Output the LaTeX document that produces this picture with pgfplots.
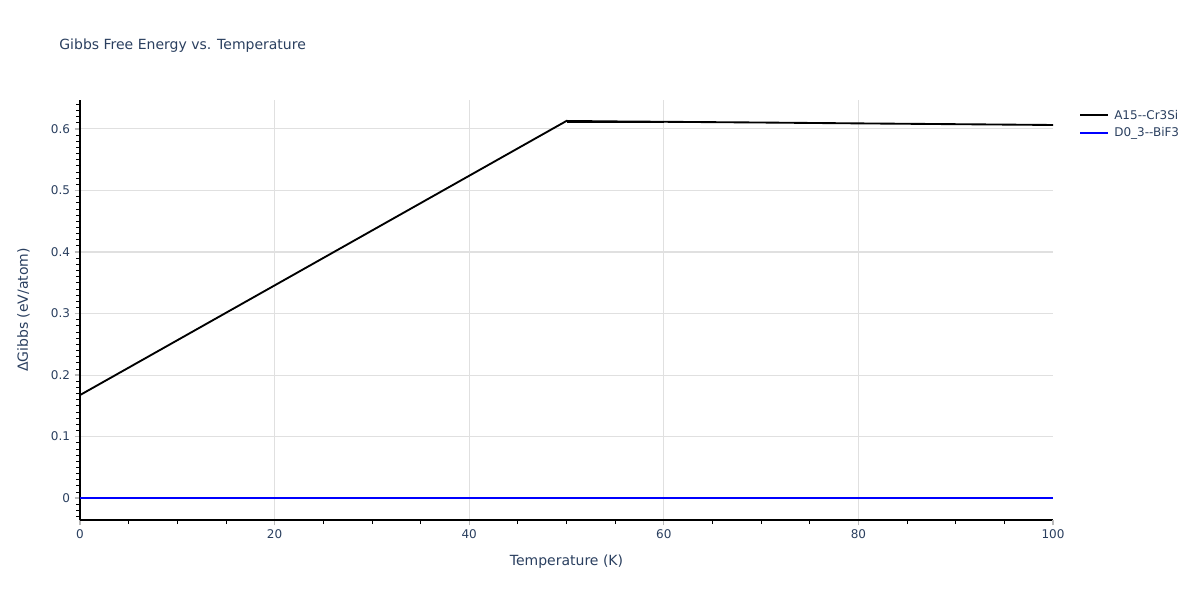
\documentclass[border=0pt]{standalone}
\usepackage{pgfplots}
\pgfplotsset{compat=1.18}
\usepackage{fontspec}
\setmainfont{DejaVu Sans}
\definecolor{plotlytext}{HTML}{2A3F5F}
\definecolor{gridc}{HTML}{E0E0E0}
\definecolor{majtick}{HTML}{BBBBBB}

\begin{document}
\begin{tikzpicture}
  \path[use as bounding box] (0pt,0pt) rectangle (900pt,450pt);
  \node[anchor=west,text=plotlytext,font=\fontsize{10.5}{13}\selectfont] at (41pt,416pt) {Gibbs Free Energy vs. Temperature};
  \begin{axis}[at={(60pt,60pt)}, anchor=south west,
      scale only axis, width=729.75pt, height=315pt,
      xmin=0, xmax=100, ymin=-0.0355, ymax=0.647,
      xtick={0,20,...,80}, minor xtick={5,10,...,95},
      extra x ticks={100}, extra x tick style={grid=none},
      ytick={0,0.1,...,0.6},
      minor ytick={-0.03,-0.02,...,0.64},
      yticklabels={0,0.1,0.2,0.3,0.4,0.5,0.6},
      tick align=outside, tick pos=left,
      major tick length=4pt, minor tick length=3pt,
      xmajorgrids, ymajorgrids,
      major grid style={gridc, line width=0.8pt},
      axis line style={black, line width=0.8pt},
      major tick style={majtick, line width=1pt},
      minor tick style={black, line width=0.6pt},
      axis x line*=bottom, axis y line*=left,
      /pgf/number format/assume math mode=true,
      ticklabel style={text=plotlytext, font=\fontsize{9}{11}\selectfont},
      xlabel={Temperature (K)}, ylabel={ΔGibbs (eV/atom)},
      label style={text=plotlytext, font=\fontsize{10.5}{12}\selectfont},
      xlabel style={yshift=3pt},
      ylabel style={yshift=9pt},
      clip=false]
    \addplot[black, line width=1.4pt] coordinates {(0,0.1675)(10,0.2566)(20,0.3457)(30,0.4348)(40,0.5239)(50,0.6130)(55,0.6122)(60,0.6116)(70,0.6104)(80,0.6090)(90,0.6077)(100,0.6064)};
    \addplot[black, line width=1.2pt] coordinates {(50,0.6112)(60,0.6112)};
    \addplot[blue, line width=1.4pt] coordinates {(0,0)(50,0)(100,0)};
  \end{axis}
  % legend
  \draw[black, line width=1.4pt] (810pt,363.75pt) -- (831pt,363.75pt);
  \node[anchor=west, text=plotlytext, font=\fontsize{9}{11}\selectfont, inner sep=0pt] at (835.5pt,363.75pt) {A15{-}{-}Cr3Si};
  \draw[blue, line width=1.4pt] (810pt,350.25pt) -- (831pt,350.25pt);
  \node[anchor=west, text=plotlytext, font=\fontsize{9}{11}\selectfont, inner sep=0pt] at (835.5pt,350.25pt) {D0\_3{-}{-}BiF3};
\end{tikzpicture}
\end{document}
